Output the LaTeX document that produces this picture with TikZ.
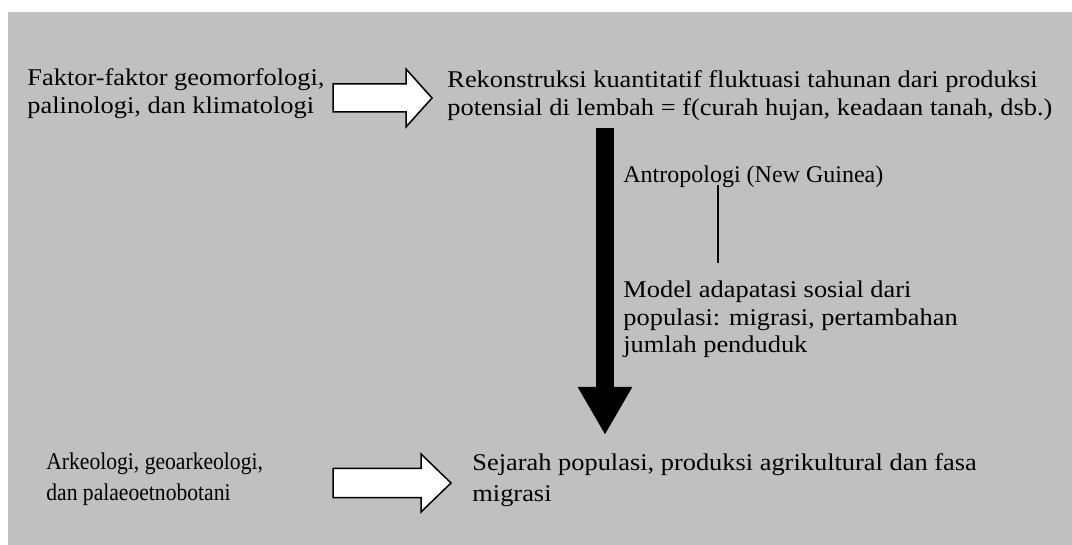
\documentclass[tikz,border=0pt]{standalone}
\usepackage{fontspec}
\setmainfont{Liberation Serif}
\newfontfamily\wideserif{Liberation Serif}[FakeStretch=1.1]
\newfontfamily\narrowserif{Liberation Serif}[FakeStretch=0.9]
\usepackage{xcolor}
\usetikzlibrary{arrows.meta,positioning}
\definecolor{panel}{RGB}{192,192,192}

\begin{document}
\begin{tikzpicture}[
    x=0.5pt, y=-0.5pt,
    txt/.style={anchor=base west, inner sep=0pt, align=left, font=\fontsize{12}{14}\selectfont},
    widetxt/.style={txt, font=\fontsize{12}{14}\selectfont\wideserif},
    hollow/.style={draw, fill=white, line width=0.75pt, line join=miter},
    bigarrow/.style={line width=9pt, -{Triangle[width=25.5pt, length=24pt]}}
]
    \useasboundingbox (0,0) rectangle (1072,545);
    \fill[panel] (8,12) rectangle (1072,545);

    % texts (anchored at the baseline of their last line)
    \node[widetxt] (fak) at (27,114) {Faktor-faktor geomorfologi,\\palinologi, dan klimatologi};
    \node[widetxt] (rek) at (447,116) {Rekonstruksi kuantitatif fluktuasi tahunan dari produksi\\potensial di lembah = f(curah hujan, keadaan tanah, dsb.)};
    \node[txt] (antro) at (623,183) {Antropologi (New Guinea)};
    \node[widetxt] (model) at (623,353) {Model adapatasi sosial dari\\populasi: migrasi, pertambahan\\jumlah penduduk};
    \node[txt, font=\fontsize{12}{15.5}\selectfont\narrowserif] (arkeo) at (46,501) {Arkeologi, geoarkeologi,\\dan palaeoetnobotani};
    \node[widetxt, font=\fontsize{12}{15.5}\selectfont\wideserif] (sej) at (472,502) {Sejarah populasi, produksi agrikultural dan fasa\\migrasi};

    % arrow ends
    \coordinate (a1) at (333,98);
    \coordinate (a2) at (333,483);
    \coordinate (dtop) at (605,128);
    \coordinate (dtip) at (605,435);
    \coordinate (ltop) at (718,185);
    \coordinate (lbot) at (718,263);

    \draw[hollow] (a1) ++(0,-14) -- ++(73,0) -- ++(0,-15) -- ++(26,29) -- ++(-26,29) -- ++(0,-15) -- ++(-73,0) -- cycle;
    \draw[hollow] (a2) ++(0,-14.5) -- ++(88,0) -- ++(0,-14.5) -- ++(30,29) -- ++(-30,29) -- ++(0,-14.5) -- ++(-88,0) -- cycle;
    \draw[bigarrow] (dtop) -- (dtip);
    \draw[line width=0.6pt] (ltop) -- (lbot);
\end{tikzpicture}
\end{document}
